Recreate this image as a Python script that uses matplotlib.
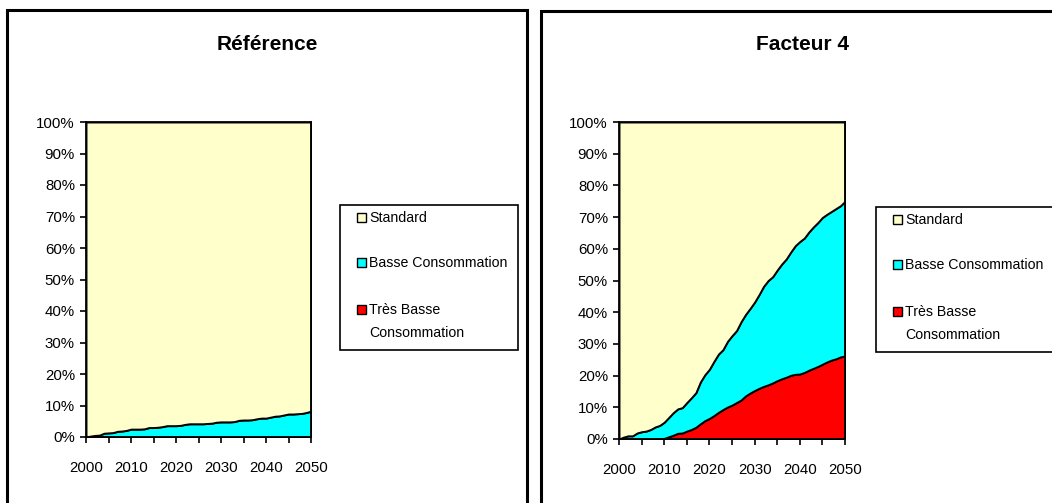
import numpy as np
import matplotlib
matplotlib.use("Agg")
import matplotlib.pyplot as plt
from matplotlib.patches import Rectangle
from matplotlib.ticker import FuncFormatter, MultipleLocator
from matplotlib import font_manager

installed = {f.name for f in font_manager.fontManager.ttflist}
if "Liberation Sans Narrow" in installed:
    plt.rcParams['font.family'] = ['Liberation Sans Narrow', 'Liberation Sans', 'DejaVu Sans']
    TICK_FS, LEG_FS, TITLE_FS = 12.3, 11.8, 17.5
else:
    plt.rcParams['font.family'] = ['Liberation Sans', 'DejaVu Sans']
    TICK_FS, LEG_FS, TITLE_FS = 10.8, 10.2, 15.0

years = list(range(2000, 2051))

# Scénario Référence : part du parc (%)
ref_tbc = [0.0] * 51
ref_bc = [0.0, 0.3, 0.5, 0.6, 1.2, 1.3, 1.4, 1.8, 1.9, 2.1,
          2.5, 2.5, 2.5, 2.6, 3.0, 3.0, 3.1, 3.3, 3.6, 3.6,
          3.6, 3.7, 4.0, 4.2, 4.2, 4.2, 4.2, 4.3, 4.4, 4.7,
          4.8, 4.8, 4.8, 4.9, 5.3, 5.4, 5.4, 5.5, 5.8, 6.0,
          6.0, 6.3, 6.6, 6.7, 7.0, 7.3, 7.3, 7.4, 7.5, 7.8,
          8.2]

# Scénario Facteur 4 : part du parc (%)
f4_tbc = [0.0, 0.0, 0.0, 0.0, 0.0, 0.0, 0.0, 0.0, 0.0, 0.0,
          0.2, 0.7, 1.2, 1.8, 1.9, 2.5, 3.0, 3.7, 4.8, 5.8,
          6.5, 7.4, 8.4, 9.3, 10.1, 10.7, 11.5, 12.3, 13.6, 14.5,
          15.3, 16.0, 16.6, 17.1, 17.7, 18.4, 19.0, 19.5, 20.1, 20.4,
          20.5, 21.0, 21.7, 22.3, 22.9, 23.6, 24.3, 24.9, 25.3, 25.9,
          26.2]
f4_bc = [0.0, 0.6, 1.0, 1.0, 1.9, 2.3, 2.5, 3.0, 3.8, 4.3,
         5.1, 6.1, 7.1, 7.7, 8.0, 9.0, 10.0, 10.9, 13.2, 14.5,
         15.5, 17.1, 18.4, 18.9, 20.7, 21.9, 22.7, 24.7, 25.7, 26.7,
         27.9, 29.6, 31.6, 32.9, 33.5, 34.9, 36.2, 37.3, 38.9, 40.6,
         41.8, 42.4, 43.6, 44.6, 45.4, 46.3, 46.6, 46.9, 47.4, 47.7,
         48.8]

series_labels = ["Standard", "Basse Consommation", "Très Basse\nConsommation"]
series_colors = ["#FFFFCC", "#00FFFF", "#FF0000"]
x_tick_labels = ["2000", "2010", "2020", "2030", "2040", "2050"]

W, H = 1052, 503
fig = plt.figure(figsize=(W / 100, H / 100), dpi=100)


def fx(px):
    return px / W


def fy(py):
    return 1 - py / H


def panel(box, ax_box, title, title_xy, tbc, bc, legend_box):
    # outer frame
    x0, y0, x1, y1 = box
    fig.patches.append(Rectangle((fx(x0), fy(y1)), fx(x1 - x0), (y1 - y0) / H,
                                 transform=fig.transFigure, fill=False,
                                 edgecolor="black", linewidth=2.2, clip_on=False))
    fig.text(fx(title_xy[0]), fy(title_xy[1]), title, ha="center", va="center",
             fontsize=TITLE_FS, fontweight="bold")

    l, t, r, b = ax_box
    ax = fig.add_axes([fx(l), fy(b), fx(r - l), (b - t) / H])
    x = np.array(years)
    tbc = np.array(tbc)
    bc = np.array(bc)
    std = 100 - tbc - bc
    ax.stackplot(x, tbc, bc, std, colors=[series_colors[2], series_colors[1], series_colors[0]],
                 edgecolor="black", linewidth=1.4)
    ax.set_xlim(2000, 2050)
    ax.set_ylim(0, 100)
    ax.xaxis.set_minor_locator(MultipleLocator(5))
    ax.set_xticks([int(s) for s in x_tick_labels])
    ax.set_xticklabels(x_tick_labels)
    ax.yaxis.set_major_locator(MultipleLocator(10))
    ax.yaxis.set_major_formatter(FuncFormatter(lambda v, p: f"{int(v)}%"))
    ax.tick_params(which="both", direction="out", length=4, width=1.2, color="black",
                   labelsize=TICK_FS)
    ax.tick_params(axis="x", pad=13)
    ax.tick_params(axis="y", pad=4)
    for s in ax.spines.values():
        s.set_linewidth(1.3)
        s.set_color("black")

    # legend
    lx0, ly0, lx1, ly1 = legend_box
    fig.patches.append(Rectangle((fx(lx0), fy(ly1)), fx(lx1 - lx0), (ly1 - ly0) / H,
                                 transform=fig.transFigure, facecolor="white",
                                 edgecolor="black", linewidth=1.2, clip_on=False))
    rows = [ly0 + 12, ly0 + 57, ly0 + 104]
    for lab, col, ry in zip(series_labels, series_colors, rows):
        fig.patches.append(Rectangle((fx(lx0 + 17), fy(ry + 5)), fx(9), 9 / H,
                                     transform=fig.transFigure, facecolor=col,
                                     edgecolor="black", linewidth=1.0))
        fig.text(fx(lx0 + 29), fy(ry - 6), lab, ha="left", va="top", fontsize=LEG_FS,
                 linespacing=1.8)
    return ax


panel((7, 10, 527, 520), (86, 122, 311, 437), "Référence", (267, 45),
      ref_tbc, ref_bc, (340, 205, 518, 350))
panel((541, 11, 1062, 520), (619, 122, 845, 439), "Facteur 4", (803, 45),
      f4_tbc, f4_bc, (876, 207, 1060, 352))

fig.savefig("out.png", dpi=100)
